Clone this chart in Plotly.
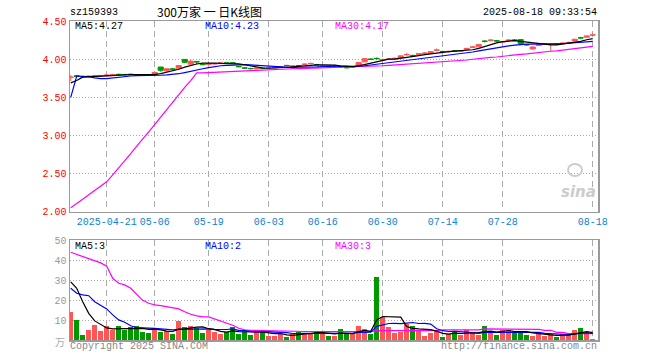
import plotly.graph_objects as go

W, H = 660, 360

dates = ["04-11","04-14","04-15","04-16","04-17","04-18","04-21","04-22","04-23","04-24","04-25","04-28","04-29","04-30",
         "05-06","05-07","05-08","05-09","05-12","05-13","05-14","05-15","05-16","05-19","05-20","05-21","05-22","05-23",
         "05-26","05-27","05-28","05-29","05-30",
         "06-03","06-04","06-05","06-06","06-09","06-10","06-11","06-12","06-13","06-16","06-17","06-18","06-19","06-20",
         "06-23","06-24","06-25","06-26","06-27","06-30",
         "07-01","07-02","07-03","07-04","07-07","07-08","07-09","07-10","07-11","07-14","07-15","07-16","07-17","07-18",
         "07-21","07-22","07-23","07-24","07-25","07-28","07-29","07-30","07-31",
         "08-01","08-04","08-05","08-06","08-07","08-08","08-11","08-12","08-13","08-14","08-15","08-18"]

opens = [3.760,3.785,3.775,3.770,3.776,3.780,3.785,3.792,3.802,3.801,
         3.804,3.796,3.792,3.791,3.800,3.898,3.848,3.873,3.882,3.998,
         3.935,3.970,3.933,3.935,3.937,3.944,3.953,3.953,3.905,3.886,
         3.880,3.877,3.886,3.884,3.887,3.897,3.920,3.908,3.917,3.932,
         3.942,3.930,3.913,3.912,3.913,3.903,3.892,3.897,3.915,3.966,
         4.002,4.012,3.990,3.997,4.005,4.020,4.058,4.050,4.066,4.077,
         4.080,4.118,4.103,4.100,4.112,4.105,4.130,4.158,4.163,4.238,
         4.248,4.244,4.226,4.245,4.253,4.258,4.193,4.135,4.180,4.197,
         4.196,4.203,4.206,4.218,4.240,4.283,4.290,4.318]
highs = [3.795,3.790,3.780,3.782,3.790,3.792,3.798,3.810,3.810,3.808,
         3.810,3.800,3.800,3.797,3.830,3.900,3.880,3.882,3.922,4.002,
         3.990,3.972,3.940,3.950,3.950,3.956,3.962,3.965,3.915,3.895,
         3.885,3.886,3.888,3.895,3.895,3.910,3.921,3.915,3.922,3.945,
         3.955,3.932,3.925,3.918,3.930,3.910,3.900,3.910,3.962,4.012,
         4.012,4.025,4.010,4.008,4.020,4.048,4.085,4.060,4.078,4.095,
         4.104,4.140,4.110,4.110,4.120,4.115,4.145,4.175,4.200,4.250,
         4.265,4.246,4.235,4.256,4.265,4.262,4.200,4.165,4.192,4.210,
         4.212,4.210,4.215,4.230,4.270,4.295,4.310,4.340]
lows = [3.715,3.770,3.765,3.765,3.772,3.776,3.780,3.785,3.790,3.790,
        3.792,3.785,3.782,3.782,3.795,3.835,3.840,3.855,3.878,3.955,
        3.930,3.935,3.920,3.930,3.933,3.940,3.940,3.935,3.895,3.875,
        3.865,3.875,3.878,3.878,3.883,3.892,3.905,3.905,3.905,3.925,
        3.935,3.920,3.905,3.903,3.905,3.890,3.880,3.888,3.912,3.962,
        3.990,3.995,3.975,3.990,4.000,4.015,4.050,4.035,4.060,4.070,
        4.076,4.105,4.090,4.090,4.095,4.100,4.127,4.150,4.160,4.220,
        4.235,4.225,4.222,4.240,4.240,4.200,4.175,4.130,4.175,4.185,
        4.110,4.190,4.200,4.210,4.236,4.270,4.285,4.310]
closes = [3.765,3.775,3.770,3.778,3.785,3.787,3.792,3.795,3.800,3.799,
          3.798,3.794,3.790,3.789,3.826,3.855,3.875,3.870,3.918,3.960,
          3.975,3.965,3.930,3.940,3.944,3.952,3.950,3.950,3.902,3.884,
          3.877,3.884,3.880,3.887,3.890,3.900,3.918,3.912,3.914,3.935,
          3.945,3.925,3.916,3.910,3.916,3.900,3.889,3.900,3.958,4.008,
          3.999,4.008,3.994,4.003,4.012,4.045,4.062,4.047,4.072,4.080,
          4.100,4.121,4.100,4.103,4.108,4.112,4.142,4.161,4.195,4.235,
          4.251,4.240,4.232,4.252,4.250,4.205,4.190,4.162,4.188,4.200,
          4.199,4.200,4.212,4.221,4.262,4.280,4.305,4.320]

ma5 = [3.690,3.720,3.765,3.770,3.775,3.779,3.782,3.787,3.792,3.795,
       3.797,3.797,3.796,3.794,3.799,3.811,3.827,3.843,3.869,3.896,
       3.920,3.938,3.950,3.954,3.951,3.946,3.943,3.947,3.940,3.928,
       3.913,3.899,3.885,3.882,3.884,3.888,3.895,3.901,3.907,3.916,
       3.925,3.926,3.927,3.926,3.922,3.913,3.906,3.903,3.913,3.931,
       3.951,3.975,3.993,4.002,4.003,4.012,4.023,4.034,4.048,4.061,
       4.072,4.084,4.095,4.101,4.106,4.109,4.113,4.125,4.144,4.169,
       4.197,4.216,4.231,4.242,4.245,4.236,4.226,4.212,4.199,4.189,
       4.188,4.190,4.200,4.206,4.219,4.235,4.256,4.270]
ma10 = [3.500,3.780,3.775,3.770,3.755,3.745,3.745,3.755,3.765,3.775,
        3.780,3.785,3.785,3.785,3.790,3.790,3.795,3.800,3.810,3.825,
        3.845,3.860,3.875,3.890,3.905,3.915,3.920,3.925,3.930,3.930,
        3.925,3.920,3.910,3.905,3.900,3.895,3.890,3.890,3.895,3.895,
        3.900,3.900,3.905,3.905,3.905,3.905,3.905,3.905,3.910,3.915,
        3.925,3.935,3.945,3.955,3.960,3.970,3.985,3.995,4.005,4.015,
        4.025,4.035,4.045,4.055,4.065,4.075,4.085,4.095,4.110,4.125,
        4.140,4.155,4.165,4.175,4.185,4.195,4.200,4.200,4.200,4.200,
        4.205,4.205,4.205,4.210,4.215,4.220,4.228,4.235]
ma30 = [2.05,2.10,2.16,2.22,2.28,2.33,2.39,2.48,2.57,2.67,
        2.76,2.86,2.95,3.05,3.14,3.24,3.34,3.43,3.53,3.63,
        3.72,3.82,3.82,3.825,3.828,3.83,3.835,3.84,3.845,3.85,
        3.852,3.855,3.86,3.862,3.865,3.868,3.872,3.875,3.878,3.88,
        3.883,3.886,3.888,3.89,3.892,3.895,3.897,3.90,3.90,3.903,
        3.905,3.91,3.915,3.92,3.925,3.93,3.935,3.94,3.945,3.95,
        3.955,3.96,3.97,3.975,3.98,3.985,3.99,4.00,4.01,4.015,
        4.025,4.03,4.04,4.05,4.055,4.065,4.07,4.08,4.09,4.095,
        4.105,4.11,4.12,4.13,4.14,4.15,4.16,4.17]

volume = [14.2,10.2,2.7,5.2,7.7,4.7,7.2,5.2,7.2,5.2,
          6.7,7.2,4.2,3.7,6.2,4.2,4.7,3.2,9.7,6.7,
          7.2,6.2,3.7,5.2,4.2,3.2,4.2,6.7,3.2,4.2,
          2.7,5.2,4.2,2.2,2.2,3.2,1.7,3.2,4.2,3.7,
          3.7,4.7,3.2,2.2,2.2,5.7,3.2,3.2,7.2,5.7,
          3.2,31.7,11.7,6.7,3.7,4.2,8.2,7.2,5.2,2.2,
          3.7,4.7,1.7,3.2,4.7,2.7,5.2,3.7,2.7,7.2,
          4.2,2.7,5.2,5.2,4.2,4.2,2.7,2.2,3.2,2.2,
          3.2,1.7,3.2,2.7,5.2,6.2,4.2,0.7]
vma5 = [29.2,26.0,19.3,13.5,9.7,8.0,6.2,5.7,5.8,5.8,
        6.0,6.2,6.0,5.5,5.6,5.2,4.6,4.4,5.6,5.7,
        6.3,6.6,6.7,5.8,5.3,4.5,4.1,4.7,4.3,4.3,
        4.2,4.4,4.2,3.7,3.3,3.4,2.7,2.5,2.9,3.2,
        3.3,3.9,3.8,3.5,3.2,3.6,3.3,3.3,4.3,5.0,
        4.5,10.2,11.9,11.8,11.4,11.6,6.9,6.0,5.7,5.4,
        5.3,4.6,3.5,3.1,3.6,3.4,3.5,3.9,3.8,4.3,
        4.6,4.1,4.4,4.9,4.3,4.3,4.3,3.7,3.3,2.9,
        2.7,2.5,2.7,2.6,3.2,3.8,4.3,3.8]
vma10 = [26.0,23.5,22.7,22.3,19.3,17.7,15.7,12.7,10.2,9.0,
         7.3,6.3,6.3,6.2,6.0,5.7,5.4,5.2,5.5,5.6,
         5.7,5.6,5.6,5.7,5.5,5.4,5.4,5.7,5.0,4.8,
         4.3,4.2,4.4,4.3,4.1,4.1,3.8,3.4,3.6,3.5,
         3.5,3.5,3.4,3.4,3.4,3.6,3.7,3.6,3.9,4.1,
         4.1,7.0,7.8,8.4,8.5,8.3,8.6,8.9,8.4,8.5,
         8.1,5.8,4.8,4.4,4.5,4.4,4.1,3.7,3.5,4.0,
         4.0,4.0,4.0,4.2,4.2,4.1,4.1,4.0,4.0,3.5,
         3.4,3.4,3.2,2.9,3.2,3.6,3.7,3.4]
vma30 = [44.0,43.0,42.0,41.0,40.0,38.7,37.0,31.0,28.5,27.7,
         26.0,23.0,20.0,18.5,17.7,17.3,16.8,16.3,15.7,14.3,
         13.0,12.2,11.7,11.7,10.7,9.7,8.5,7.5,6.0,5.2,
         5.0,4.9,4.8,4.7,4.7,4.6,4.6,4.5,4.5,4.4,
         4.4,4.3,4.3,4.3,4.3,4.3,4.3,4.3,4.3,4.3,
         4.3,4.8,4.8,4.8,4.8,4.8,4.8,4.8,4.8,4.8,
         4.8,4.8,5.2,5.2,5.2,5.2,5.2,5.2,5.2,5.7,
         5.7,5.6,5.5,5.5,5.5,5.5,5.5,5.5,5.5,5.0,
         5.0,4.0,4.0,3.3,3.3,3.3,3.3,3.3]

tick_dates = ["04-21","05-06","05-19","06-03","06-16","06-30","07-14","07-28","08-18"]
tick_text = ["2025-04-21","05-06","05-19","06-03","06-16","06-30","07-14","07-28","08-18"]
price_ticks = [2.00, 2.50, 3.00, 3.50, 4.00, 4.50]
vol_ticks = [10, 20, 30, 40, 50]

RED = "#ff5555"
GREEN = "#009900"
MONO = "Liberation Mono"

idx = list(range(len(dates)))
tickvals = [dates.index(d) for d in tick_dates]
bar_colors = [RED if c >= o else GREEN for o, c in zip(opens, closes)]

fig = go.Figure()
fig.add_trace(go.Candlestick(
    x=idx, open=opens, high=highs, low=lows, close=closes,
    increasing=dict(line=dict(color=RED, width=1), fillcolor=RED),
    decreasing=dict(line=dict(color=GREEN, width=1), fillcolor=GREEN),
    whiskerwidth=0, xaxis="x", yaxis="y", hoverinfo="skip", showlegend=False))
for vals, col in [(ma30, "#ff00ff"), (ma10, "#0000ff"), (ma5, "#000000")]:
    fig.add_trace(go.Scatter(x=idx, y=vals, mode="lines", line=dict(color=col, width=1.2),
                             xaxis="x", yaxis="y", hoverinfo="skip", showlegend=False))

fig.add_trace(go.Bar(x=idx, y=volume, marker=dict(color=bar_colors, line=dict(width=0)),
                     width=0.82, xaxis="x2", yaxis="y2", hoverinfo="skip", showlegend=False))
for vals, col in [(vma30, "#ff00ff"), (vma10, "#0000ff"), (vma5, "#000000")]:
    fig.add_trace(go.Scatter(x=idx, y=vals, mode="lines", line=dict(color=col, width=1.2),
                             xaxis="x2", yaxis="y2", hoverinfo="skip", showlegend=False))

def fx(px):
    return px / W

def fy(py):
    return 1 - py / H

xdom = [fx(70), fx(598)]
xrange_ = [-0.12, 87.88]
frame = dict(showline=True, mirror=True, linecolor="#9a9a9a", linewidth=1.5, zeroline=False,
             automargin=False, fixedrange=True)

fig.update_layout(
    template="none",
    width=W, height=H, margin=dict(l=0, r=0, t=0, b=0, pad=0, autoexpand=False),
    paper_bgcolor="white", plot_bgcolor="white",
    font=dict(family=MONO, size=10, color="#000"),
    boxgap=0.15, boxgroupgap=0, bargap=0,
    showlegend=False,
    xaxis=dict(domain=xdom, range=xrange_, anchor="y", tickmode="array", tickvals=tickvals,
               ticktext=tick_text, tickfont=dict(color="#0a84d0", size=10, family=MONO),
               showgrid=True, gridcolor="#aaaaaa", griddash="6px,4px", gridwidth=1,
               rangeslider=dict(visible=False), ticks="", **frame),
    yaxis=dict(domain=[fy(211.5), fy(21.2)], range=[2.0, 4.5], anchor="x", tickmode="array",
               tickvals=price_ticks, tickformat=".2f", tickfont=dict(color="#ff0000", size=10, family=MONO),
               showgrid=True, gridcolor="#aaaaaa", griddash="1px,2px", gridwidth=1, ticks="", **frame),
    xaxis2=dict(domain=xdom, range=xrange_, anchor="y2", tickmode="array", tickvals=tickvals,
                showticklabels=False, showgrid=True, gridcolor="#aaaaaa", griddash="6px,4px",
                gridwidth=1, ticks="", **frame),
    yaxis2=dict(domain=[fy(340.3), fy(240.3)], range=[0, 50], anchor="x2", tickmode="array",
                tickvals=vol_ticks, tickfont=dict(color="#999999", size=10, family=MONO),
                showgrid=True, gridcolor="#aaaaaa", griddash="1px,2px", gridwidth=1, ticks="", **frame),
)

ann = []
def text(x, y, s, color="#000", anchor="left", size=10, family=MONO):
    ann.append(dict(x=fx(x), y=fy(y), xref="paper", yref="paper", text=s, showarrow=False,
                    xanchor=anchor, yanchor="middle", font=dict(color=color, size=size, family=family),
                    borderpad=0))

text(69, 13, "sz159393")
text(209, 11.5, "300万家 一 日K线图", anchor="center", size=12, family="Noto Sans CJK SC")
text(598, 13, "2025-08-18 09:33:54", anchor="right")
text(74, 26.5, "MA5:4.27")
text(204, 26.5, "MA10:4.23", color="#0000ff")
text(334, 26.5, "MA30:4.17", color="#ff00ff")
text(74, 246, "MA5:3")
text(204, 246, "MA10:2", color="#0000ff")
text(334, 246, "MA30:3", color="#ff00ff")
text(66, 341, "万", color="#aaaaaa", anchor="right", size=10, family="Noto Sans CJK SC")
text(69, 346, "Copyright 2025 SINA.COM", color="#888888")
text(598, 346, "http://finance.sina.com.cn", color="#888888", anchor="right")
text(578, 192, "<b><i>sina</i></b>", color="#cccccc", anchor="center", size=15, family="DejaVu Sans")
fig.update_layout(annotations=ann)
fig.add_shape(type="circle", xref="paper", yref="paper", x0=fx(568), x1=fx(582), y0=fy(176), y1=fy(164),
              line=dict(color="#cccccc", width=2))

fig.write_html("out.html", config={"displayModeBar": False, "staticPlot": True},
               post_script="document.body.style.margin='0';document.body.style.overflow='hidden';")
